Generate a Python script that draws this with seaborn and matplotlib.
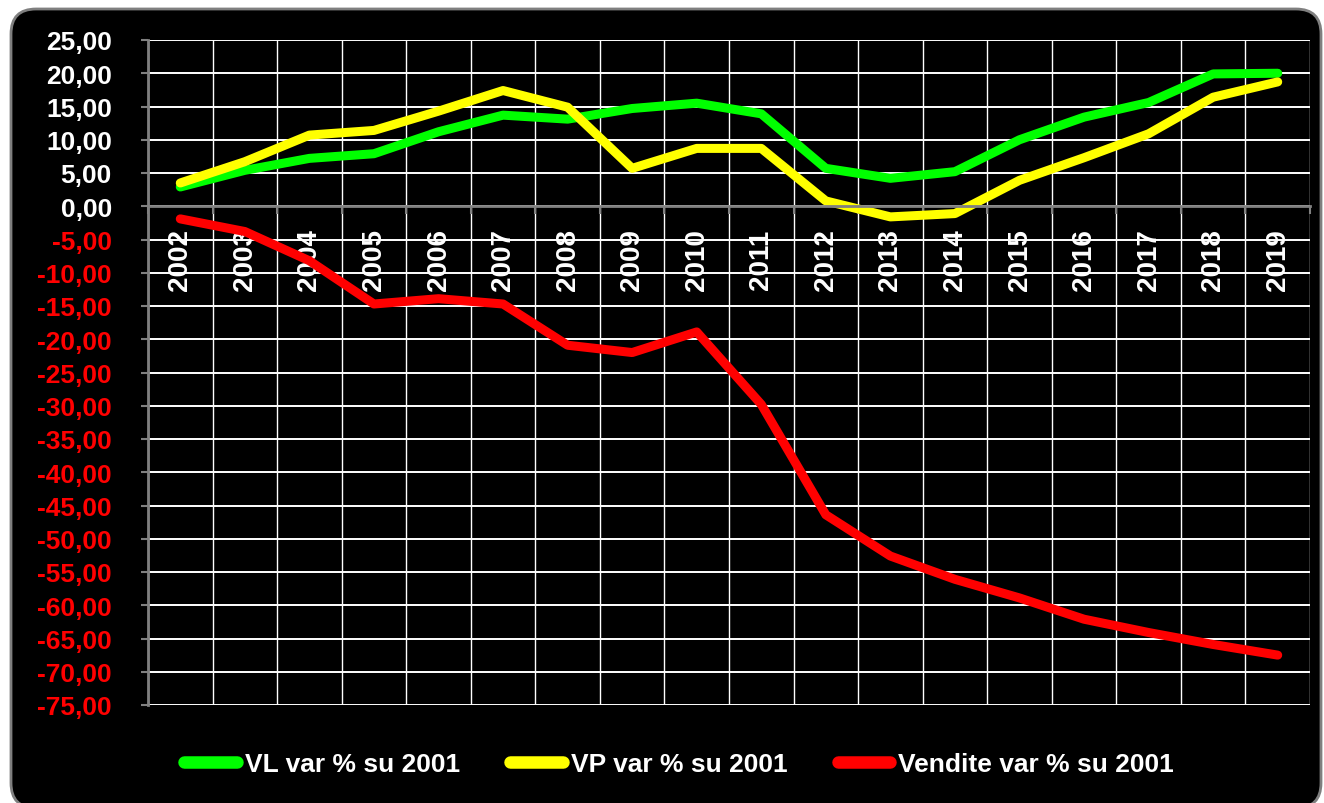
import matplotlib
matplotlib.use("Agg")
import matplotlib.pyplot as plt
import pandas as pd
import seaborn as sns
from matplotlib.patches import FancyBboxPatch
from matplotlib.ticker import FixedLocator

# dati (var % rispetto al 2001)
anni = list(range(2002, 2020))
vl = [2.9, 5.4, 7.2, 7.9, 11.2, 13.7, 13.1, 14.7, 15.5, 13.9, 5.7, 4.2, 5.2, 10.0, 13.4, 15.6, 19.9, 20.0]
vp = [3.5, 6.7, 10.7, 11.4, 14.3, 17.4, 14.9, 5.7, 8.7, 8.7, 0.8, -1.6, -1.1, 3.9, 7.3, 10.9, 16.4, 18.7]
vendite = [-1.9, -3.8, -8.2, -14.7, -13.9, -14.7, -20.9, -22.0, -18.9, -29.8, -46.4, -52.6, -56.1, -58.9, -62.1, -64.1, -65.9, -67.5]

serie = ["VL var % su 2001", "VP var % su 2001", "Vendite var % su 2001"]
colori = ["#00ff00", "#ffff00", "#ff0000"]
y_ticks = list(range(-75, 30, 5))

df = pd.DataFrame({
    "anno": anni * 3,
    "valore": vl + vp + vendite,
    "serie": [s for s in serie for _ in anni],
})

sns.set_theme(style="dark")
plt.rcParams['font.family'] = ['Liberation Sans', 'DejaVu Sans']
plt.rcParams['font.weight'] = 'bold'

fig = plt.figure(figsize=(13.24, 8.04), dpi=100)
fig.patch.set_facecolor("white")

# riquadro nero arrotondato
card = FancyBboxPatch((0.11, -0.05), 13.1, 7.99,
                      boxstyle="round,pad=0,rounding_size=0.25",
                      transform=fig.dpi_scale_trans, facecolor="black",
                      edgecolor="#7f7f7f", linewidth=2, zorder=-5)
fig.patches.append(card)

ax = fig.add_axes([148 / 1324, 1 - 706 / 804, (1310 - 148) / 1324, (706 - 41) / 804])
ax.set_facecolor("black")
ax.set_zorder(1)

sns.lineplot(data=df, x="anno", y="valore", hue="serie",
             palette=dict(zip(serie, colori)), linewidth=6.5, ax=ax)
for ln in ax.lines:
    ln.set_solid_joinstyle("round")
    ln.set_solid_capstyle("round")

ax.set_xlim(2001.5, 2019.5)
ax.set_ylim(-75, 25)
ax.set_xlabel("")
ax.set_ylabel("")

# spine prima dei tick (set_position resetta i tick)
ax.spines["bottom"].set_position(("data", 0))
ax.spines["bottom"].set_color("#808080")
ax.spines["bottom"].set_linewidth(2)
ax.spines["left"].set_color("#808080")
ax.spines["left"].set_linewidth(2)
ax.spines["top"].set_visible(False)
ax.spines["right"].set_visible(False)

# asse x
ax.set_xticks(anni)
ax.set_xticklabels([str(a) for a in anni], rotation=90, fontsize=20,
                   color="white", fontweight="bold")
ax.xaxis.set_minor_locator(FixedLocator([a + 0.5 for a in range(2001, 2020)]))
ax.tick_params(axis="x", which="major", length=0, pad=16, bottom=True)
ax.tick_params(axis="x", which="minor", length=6, width=1.5, color="#808080",
               direction="out", bottom=True)

# asse y
ax.set_yticks(y_ticks)
ax.set_yticklabels([f"{v:.2f}".replace(".", ",") for v in y_ticks], fontsize=19,
                   fontweight="bold")
for lab, v in zip(ax.get_yticklabels(), y_ticks):
    lab.set_color("#ff0000" if v < 0 else "white")
ax.tick_params(axis="y", length=5, width=1.5, color="#808080", direction="out",
               pad=21, left=True)

ax.grid(which="major", axis="y", color="white", linewidth=1.4)
ax.grid(which="minor", axis="x", color="white", linewidth=1.0)
ax.grid(which="major", axis="x", visible=False)
ax.set_axisbelow(True)

handles, labels = ax.get_legend_handles_labels()
ax.get_legend().remove()
leg = fig.legend(handles, labels, loc="center", bbox_to_anchor=(0.513, 0.048),
                 ncol=3, frameon=False, handlelength=2.0, handletextpad=0.3,
                 columnspacing=1.9, prop={"size": 19, "weight": "bold"},
                 labelcolor="white")
for h in leg.legend_handles:
    h.set_linewidth(9)
    h.set_solid_capstyle("round")

fig.savefig("out.png", dpi=100, facecolor=fig.get_facecolor())
